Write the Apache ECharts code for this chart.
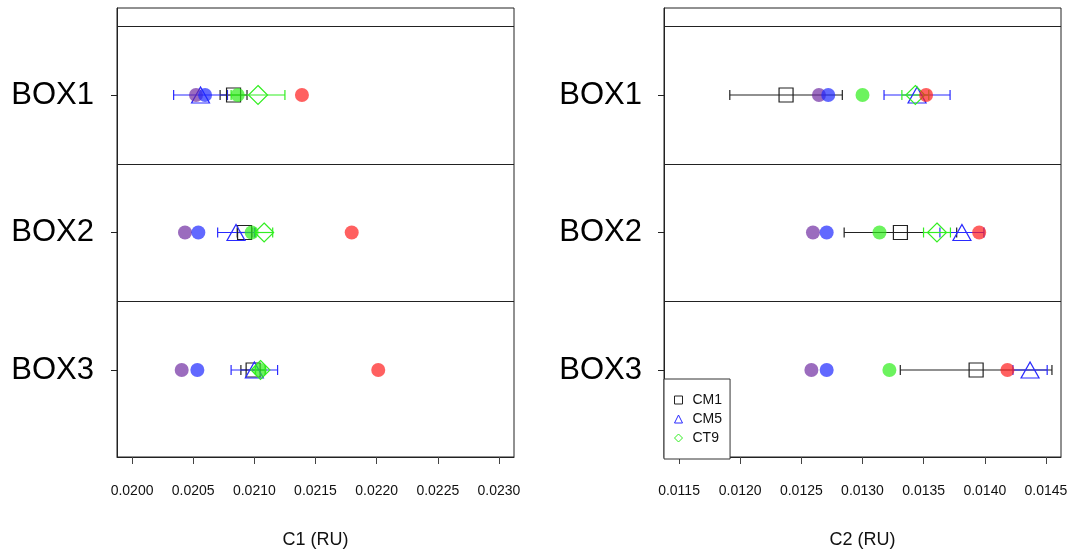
<!DOCTYPE html>
<html>
<head>
<meta charset="utf-8">
<script src="https://cdn.jsdelivr.net/npm/echarts@6/dist/echarts.min.js"></script>
<style>html,body{margin:0;padding:0;background:#fff}#c{width:1085px;height:551px}</style>
</head>
<body>
<div id="c"></div>
<script>
// ---- data ----
const boxes = ['BOX1', 'BOX2', 'BOX3'];
const boxPos = [3, 2, 1];
const c1Ticks = [0.0200, 0.0205, 0.0210, 0.0215, 0.0220, 0.0225, 0.0230];
const c2Ticks = [0.0115, 0.0120, 0.0125, 0.0130, 0.0135, 0.0140, 0.0145];

// C1 panel
const cm1C1 = [0.02083, 0.02092, 0.02099];
const cm1C1Err = [0.00011, 0.00006, 0.00010];
const cm5C1 = [0.02056, 0.02085, 0.02100];
const cm5C1Err = [0.00022, 0.00015, 0.00019];
const ct9C1 = [0.02103, 0.02108, 0.02105];
const ct9C1Err = [0.00022, 0.00007, 0.00004];
const purpleC1 = [0.020523, 0.020433, 0.020406];
const blueC1 = [0.020597, 0.020542, 0.020534];
const greenC1 = [0.020864, 0.020978, 0.021046];
const redC1 = [0.021389, 0.021796, 0.022013];

// C2 panel
const cm1C2 = [0.012375, 0.01331, 0.013929];
const cm1C2Err = [0.00046, 0.00046, 0.00062];
const cm5C2 = [0.013446, 0.013813, 0.01437];
const cm5C2Err = [0.00027, 0.00018, 0.00014];
const ct9C2 = [0.013432, 0.013609, null];
const ct9C2Err = [0.00011, 0.00011, null];
const purpleC2 = [0.012644, 0.012595, 0.012582];
const blueC2 = [0.01272, 0.012707, 0.012707];
const greenC2 = [0.013, 0.013139, 0.01322];
const redC2 = [0.01352, 0.013954, 0.014185];

// ---- chart ----
const FONT = 'Liberation Sans, Arial, sans-serif';
const chart = echarts.init(document.getElementById('c'), null, {renderer: 'canvas'});

function pts(vals) {
  const out = [];
  vals.forEach((v, i) => { if (v != null) out.push([v, boxPos[i]]); });
  return out;
}
function errData(vals, errs) {
  const out = [];
  vals.forEach((v, i) => { if (v != null) out.push([v - errs[i], v + errs[i], boxPos[i]]); });
  return out;
}
function errSeries(idx, vals, errs, color) {
  return {
    type: 'custom', xAxisIndex: idx, yAxisIndex: idx, silent: true, z: 2,
    data: errData(vals, errs),
    renderItem: function (params, api) {
      const a = api.coord([api.value(0), api.value(2)]);
      const b = api.coord([api.value(1), api.value(2)]);
      const h = 5;
      const st = {stroke: color, lineWidth: 1.2};
      return {type: 'group', children: [
        {type: 'line', shape: {x1: a[0], y1: a[1], x2: b[0], y2: b[1]}, style: st},
        {type: 'line', shape: {x1: a[0], y1: a[1] - h, x2: a[0], y2: a[1] + h}, style: st},
        {type: 'line', shape: {x1: b[0], y1: b[1] - h, x2: b[0], y2: b[1] + h}, style: st}
      ]};
    }
  };
}
function hollow(idx, name, vals, symbol, size, color) {
  return {
    type: 'scatter', name: name, xAxisIndex: idx, yAxisIndex: idx, z: 3,
    symbol: symbol, symbolSize: size, data: pts(vals),
    itemStyle: {color: 'rgba(0,0,0,0)', borderColor: color, borderWidth: 1.2, opacity: 1},
    emphasis: {disabled: true}
  };
}
function dots(idx, vals, color) {
  return {
    type: 'scatter', xAxisIndex: idx, yAxisIndex: idx, z: 4,
    symbol: 'circle', symbolSize: 14, data: pts(vals),
    itemStyle: {color: color},
    emphasis: {disabled: true}
  };
}
function sepSeries(idx) {
  return {
    type: 'line', xAxisIndex: idx, yAxisIndex: idx, data: [], z: 1,
    markLine: {
      silent: true, symbol: ['none', 'none'], label: {show: false},
      lineStyle: {color: '#222', type: 'solid', width: 1},
      data: [{yAxis: 3.5}, {yAxis: 2.5}, {yAxis: 1.5}]
    }
  };
}
function xAxisCfg(idx, ticks, name) {
  return {
    type: 'value', gridIndex: idx,
    min: ticks[0] - 0.000123, max: ticks[ticks.length - 1] + 0.000123,
    name: name, nameLocation: 'middle', nameGap: 74,
    nameTextStyle: {fontSize: 18, color: '#111', fontFamily: FONT},
    axisLine: {show: true, lineStyle: {color: '#222'}},
    axisTick: {show: true, customValues: ticks, length: 7, lineStyle: {color: '#444'}},
    axisLabel: {customValues: ticks, formatter: v => v.toFixed(4), fontSize: 14, color: '#111', margin: 27, fontFamily: FONT},
    splitLine: {show: false}
  };
}
function yAxisCfg(idx, margin) {
  return {
    type: 'value', gridIndex: idx, min: 0.367, max: 3.633,
    axisLine: {show: true, lineStyle: {color: '#222'}},
    axisTick: {show: true, customValues: boxPos, length: 6, lineStyle: {color: '#222'}},
    axisLabel: {customValues: boxPos, formatter: v => boxes[boxPos.indexOf(Math.round(v))] || '',
      fontSize: 31, color: '#000', margin: margin, fontFamily: FONT},
    splitLine: {show: false}
  };
}

const PURPLE = 'rgba(108,40,160,0.85)';
const BLUE = 'rgba(30,40,255,0.88)';
const GREEN = 'rgba(45,238,25,0.88)';
const RED = 'rgba(255,28,28,0.88)';

const option = {
  animation: false,
  backgroundColor: '#fff',
  textStyle: {fontFamily: FONT},
  grid: [
    {left: 117, top: 8, width: 397, height: 449, show: true, borderColor: '#222', borderWidth: 1,
      backgroundColor: 'transparent', containLabel: false, outerBoundsMode: 'none'},
    {left: 664, top: 8, width: 397, height: 449, show: true, borderColor: '#222', borderWidth: 1,
      backgroundColor: 'transparent', containLabel: false, outerBoundsMode: 'none'}
  ],
  xAxis: [xAxisCfg(0, c1Ticks, 'C1 (RU)'), xAxisCfg(1, c2Ticks, 'C2 (RU)')],
  yAxis: [yAxisCfg(0, 23), yAxisCfg(1, 22)],
  legend: {
    left: 664, top: 379, orient: 'vertical',
    data: [
      {name: 'CM1', icon: 'rect', itemStyle: {borderWidth: 1}},
      {name: 'CM5', icon: 'triangle', itemStyle: {borderWidth: 1}},
      {name: 'CT9', icon: 'diamond', itemStyle: {borderWidth: 1}}
    ],
    itemWidth: 8, itemHeight: 8, itemGap: 5,
    padding: [14, 8, 14, 10],
    borderColor: '#333', borderWidth: 1, backgroundColor: '#fff',
    textStyle: {fontSize: 14, color: '#111', fontFamily: FONT, padding: [0, 0, 0, 5]},
    selectedMode: false
  },
  series: [
    sepSeries(0), sepSeries(1),
    errSeries(0, cm1C1, cm1C1Err, '#222'),
    errSeries(0, cm5C1, cm5C1Err, '#2a2aff'),
    errSeries(0, ct9C1, ct9C1Err, '#33ee22'),
    errSeries(1, cm1C2, cm1C2Err, '#222'),
    errSeries(1, cm5C2, cm5C2Err, '#2a2aff'),
    errSeries(1, ct9C2, ct9C2Err, '#33ee22'),
    hollow(0, 'CM1', cm1C1, 'rect', 14, '#222'),
    hollow(0, 'CM5', cm5C1, 'triangle', [18, 16], '#2a2aff'),
    hollow(0, 'CT9', ct9C1, 'diamond', 19, '#33ee22'),
    hollow(1, 'CM1', cm1C2, 'rect', 14, '#222'),
    hollow(1, 'CM5', cm5C2, 'triangle', [18, 16], '#2a2aff'),
    hollow(1, 'CT9', ct9C2, 'diamond', 19, '#33ee22'),
    dots(0, purpleC1, PURPLE), dots(0, blueC1, BLUE), dots(0, greenC1, GREEN), dots(0, redC1, RED),
    dots(1, purpleC2, PURPLE), dots(1, blueC2, BLUE), dots(1, greenC2, GREEN), dots(1, redC2, RED)
  ]
};
chart.setOption(option);
</script>
</body>
</html>
